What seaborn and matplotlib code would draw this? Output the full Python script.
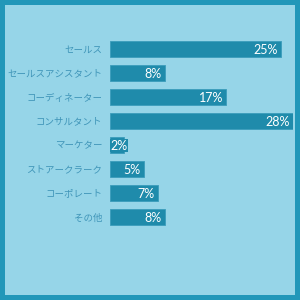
import matplotlib
matplotlib.use("Agg")
import matplotlib.pyplot as plt
import seaborn as sns
import pandas as pd

categories = ["セールス", "セールスアシスタント", "コーディネーター", "コンサルタント",
              "マーケター", "ストアークラーク", "コーポレート", "その他"]
values = [25, 8, 17, 28, 2, 5, 7, 8]
value_labels = ["25%", "8%", "17%", "28%", "2%", "5%", "7%", "8%"]

BORDER = "#2197b9"
BG = "#96d5e8"
BAR = "#1f8bab"
LABEL = "#3f95b8"

sns.set_theme(style="white")
plt.rcParams['font.family'] = ['Noto Sans CJK JP', 'DejaVu Sans']

df = pd.DataFrame({"category": categories, "value": values})

fig = plt.figure(figsize=(3, 3), dpi=100, facecolor=BORDER)
bg_ax = fig.add_axes([5/300, 5/300, 290/300, 290/300], zorder=-5)
bg_ax.set_facecolor(BG)
bg_ax.set_xticks([])
bg_ax.set_yticks([])
for s in bg_ax.spines.values():
    s.set_visible(False)

# axes: left 110px, right 293px; rows centred at 49..217 px (24 px spacing)
top_px = 49 - 12
bottom_px = 217 + 12
ax = fig.add_axes([110/300, 1 - bottom_px/300, 183/300, (bottom_px - top_px)/300], zorder=1)
ax.set_facecolor("none")

sns.barplot(data=df, x="value", y="category", orient="h", color=BAR,
            width=0.67, saturation=1, ax=ax, edgecolor="#3a9cbb", linewidth=0.6)

xmax = 183 / 6.85
ax.set_xlim(0, xmax)
ax.set_ylim(len(categories) - 0.5, -0.5)

for i, (v, lab) in enumerate(zip(values, value_labels)):
    if v < 3:
        # too short for an inside-right label: start it at the bar base
        ax.annotate(lab, xy=(0, i), xytext=(0.5, -0.5), textcoords="offset points",
                    ha="left", va="center", color="white", fontsize=9,
                    family=["Lato", "DejaVu Sans"], zorder=5,
                    bbox=dict(boxstyle="square,pad=0.05", fc=BAR, ec="none"))
    else:
        ax.annotate(lab, xy=(min(v, xmax), i), xytext=(-2.5, -0.5), textcoords="offset points",
                    ha="right", va="center", color="white", fontsize=9,
                    family=["Lato", "DejaVu Sans"], zorder=5)

ax.set_xlabel("")
ax.set_ylabel("")
ax.set_xticks([])
ax.tick_params(axis="y", length=0, pad=5.5, labelsize=6.8, labelcolor=LABEL)
for s in ax.spines.values():
    s.set_visible(False)

fig.savefig("out.png", dpi=100, facecolor=BORDER)
